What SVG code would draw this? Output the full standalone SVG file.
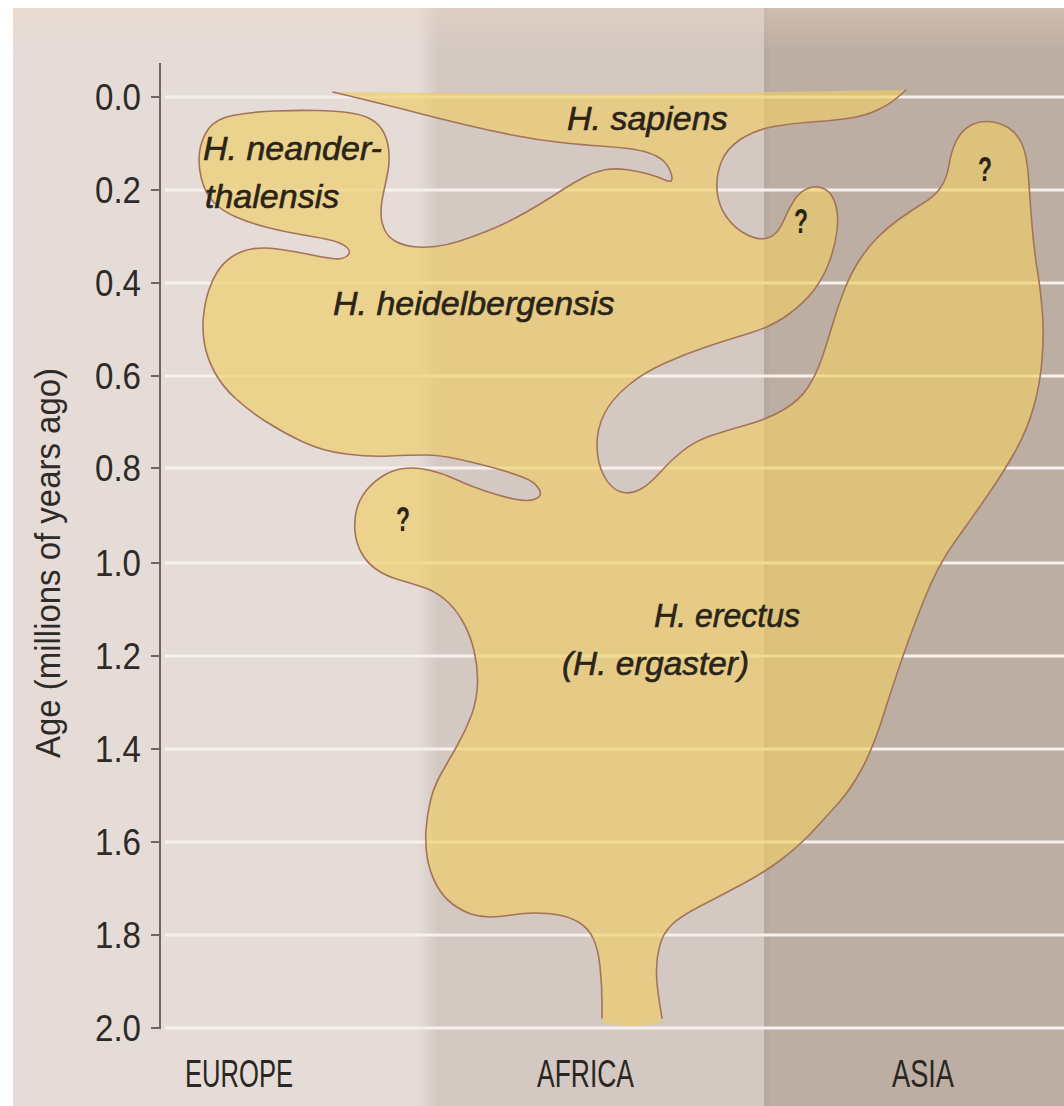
<svg xmlns="http://www.w3.org/2000/svg" width="1064" height="1106" viewBox="0 0 1064 1106">
<defs>
<style>
.grid{stroke:#f7f0eb;stroke-width:3}
.tick{stroke:#70665f;stroke-width:2}
.num{font-family:"Liberation Sans",Arial,sans-serif;font-size:37px;fill:#2e2a26;text-anchor:end}
.col{font-family:"Liberation Sans",Arial,sans-serif;font-size:38px;fill:#2a2622}
.sp{font-family:"Liberation Sans",Arial,sans-serif;font-size:34px;font-style:italic;fill:#2a2418;stroke:#2a2418;stroke-width:0.6}
.q{font-family:"Liberation Sans",Arial,sans-serif;font-size:35px;font-weight:bold;fill:#2a2418;text-anchor:middle}
</style>
<linearGradient id="topband" x1="0" y1="0" x2="0" y2="1">
<stop offset="0" stop-color="#f2d9c4" stop-opacity="0.35"/>
<stop offset="1" stop-color="#f2d9c4" stop-opacity="0"/>
</linearGradient>
<linearGradient id="eaEdge" x1="0" y1="0" x2="1" y2="0">
<stop offset="0" stop-color="#e5dcd8"/>
<stop offset="1" stop-color="#d4c8c2"/>
</linearGradient>
</defs>
<rect width="1064" height="1106" fill="#ffffff"/>
<g id="background">
<rect x="13" y="8" width="412" height="1098" fill="#e5dcd8"/>
<rect x="418" y="8" width="20" height="1098" fill="url(#eaEdge)"/>
<rect x="437" y="8" width="330" height="1098" fill="#d4c8c2"/>
<rect x="767" y="8" width="297" height="1098" fill="#bdaea3"/>
<rect x="764" y="8" width="5" height="1098" fill="#b9aaa0"/>
<rect x="13" y="8" width="1051" height="45" fill="url(#topband)"/>
</g>
<g id="grid">
<line class="grid" x1="165" y1="97" x2="1064" y2="97"/>
<line class="grid" x1="165" y1="190" x2="1064" y2="190"/>
<line class="grid" x1="165" y1="283" x2="1064" y2="283"/>
<line class="grid" x1="165" y1="376" x2="1064" y2="376"/>
<line class="grid" x1="165" y1="468" x2="1064" y2="468"/>
<line class="grid" x1="165" y1="563" x2="1064" y2="563"/>
<line class="grid" x1="165" y1="656" x2="1064" y2="656"/>
<line class="grid" x1="165" y1="749" x2="1064" y2="749"/>
<line class="grid" x1="165" y1="842" x2="1064" y2="842"/>
<line class="grid" x1="165" y1="935" x2="1064" y2="935"/>
<line class="grid" x1="165" y1="1028" x2="1064" y2="1028"/>
</g>
<g id="ranges">
<path fill="#eecd62" fill-opacity="0.64" d="M906,90 L898,97 Q890,104 877.5,110 Q865,116 847.5,118.5 Q830,121 811.5,122 Q793,123 774,126.5 Q755,130 741,139 Q727,148 721.5,161.5 Q716,175 717,190 Q718,205 726.5,217 Q735,229 747.5,235 Q760,241 769,237.5 Q778,234 783,222 Q788,210 794,200.5 Q800,191 809,188 Q818,185 825.5,189.5 Q833,194 836,206 Q839,218 836.5,234 Q834,250 828.5,264 Q823,278 814,290 Q805,302 789,314 Q773,326 750,333 Q727,340 706,347 Q685,354 664,363.5 Q643,373 627.5,386 Q612,399 604.5,413.5 Q597,428 597,445 Q597,462 603.5,475 Q610,488 620,491.5 Q630,495 640,489.5 Q650,484 660,472.5 Q670,461 682.5,451 Q695,441 711.5,435.5 Q728,430 748,424.5 Q768,419 784,409.5 Q800,400 808.5,386.5 Q817,373 822.5,356.5 Q828,340 833,323 Q838,306 844.5,289.5 Q851,273 859.5,260 Q868,247 878,237 Q888,227 900,218.5 Q912,210 923.5,203 Q935,196 941,187 Q947,178 949,165 Q951,152 956,141.5 Q961,131 969.5,126 Q978,121 988.5,121.5 Q999,122 1008,127.5 Q1017,133 1022,144 Q1027,155 1028.5,177.5 Q1030,200 1032,225 Q1034,250 1037.5,271 Q1041,292 1042.5,313.5 Q1044,335 1042,360 Q1040,385 1033.5,407.5 Q1027,430 1016,450 Q1005,470 988.5,494 Q972,518 955,541.5 Q938,565 925,597.5 Q912,630 902.5,657.5 Q893,685 883,716.5 Q873,748 862,768.5 Q851,789 838.5,803 Q826,817 812.5,831.5 Q799,846 782,859 Q765,872 742.5,884 Q720,896 700.5,906 Q681,916 672,924.5 Q663,933 659.5,946.5 Q656,960 656.5,975 Q657,990 662,1022 Q632,1030 602,1022 L602,1003.5 Q602,985 600,966.5 Q598,948 593,938 Q588,928 579,922.5 Q570,917 559,915 Q548,913 535.5,913 Q523,913 511.5,915 Q500,917 490,917 Q480,917 471,914 Q462,911 452.5,904 Q443,897 436.5,885 Q430,873 427.5,859 Q425,845 426,830 Q427,815 430.5,800.5 Q434,786 441.5,773 Q449,760 457.5,745 Q466,730 471.5,715 Q477,700 477.5,683.5 Q478,667 474,650.5 Q470,634 462.5,621 Q455,608 445,599.5 Q435,591 422.5,587 Q410,583 398,579.5 Q386,576 376.5,569.5 Q367,563 361.5,553 Q356,543 355,531.5 Q354,520 356.5,510 Q359,500 365.5,491.5 Q372,483 382,476.5 Q392,470 403.5,468.5 Q415,467 428.5,470 Q442,473 456,479.5 Q470,486 485,491 Q500,496 514,499 Q528,502 535.5,499 Q543,496 539,489 Q535,482 523.5,477.5 Q512,473 496,468.5 Q480,464 460,459.5 Q440,455 425,455 Q410,455 390,456 Q370,457 346,454 Q322,451 302,441.5 Q282,432 265,421 Q248,410 235,398 Q222,386 214.5,372 Q207,358 204.5,344 Q202,330 203.5,316 Q205,302 208.5,291 Q212,280 217.5,271.5 Q223,263 231.5,257 Q240,251 251.5,249 Q263,247 277.5,249 Q292,251 307,254 Q322,257 332,258.5 Q342,260 347,256 Q352,252 347,247.5 Q342,243 332,240.5 Q322,238 303.5,235 Q285,232 267.5,227.5 Q250,223 236,217 Q222,211 213.5,202 Q205,193 201.5,179 Q198,165 199.5,152.5 Q201,140 208,129.5 Q215,119 232.5,115.5 Q250,112 275,111 Q300,110 317.5,110.5 Q335,111 347.5,112.5 Q360,114 368.5,118 Q377,122 382,129.5 Q387,137 388.5,148.5 Q390,160 388,171 Q386,182 383.5,192.5 Q381,203 381,212.5 Q381,222 384.5,229.5 Q388,237 395,241 Q402,245 412,246.5 Q422,248 435,246.5 Q448,245 460,241 Q472,237 486,231.5 Q500,226 513.5,219 Q527,212 540,204 Q553,196 563,189.5 Q573,183 583.5,177.5 Q594,172 604,170 Q614,168 625.5,169.5 Q637,171 646.5,173.5 Q656,176 665,180 Q674,184 671.5,175 Q669,166 663.5,161 Q658,156 649,153 Q640,150 627.5,148.5 Q615,147 600,146 Q585,145 561,142.5 Q537,140 512,135 Q487,130 462,124 Q437,118 412,111.5 Q387,105 333,92 L620,94 Z"/>
<path fill="none" stroke="#a5735a" stroke-width="1.6" stroke-linejoin="round" stroke-linecap="round" d="M906,90 L898,97 Q890,104 877.5,110 Q865,116 847.5,118.5 Q830,121 811.5,122 Q793,123 774,126.5 Q755,130 741,139 Q727,148 721.5,161.5 Q716,175 717,190 Q718,205 726.5,217 Q735,229 747.5,235 Q760,241 769,237.5 Q778,234 783,222 Q788,210 794,200.5 Q800,191 809,188 Q818,185 825.5,189.5 Q833,194 836,206 Q839,218 836.5,234 Q834,250 828.5,264 Q823,278 814,290 Q805,302 789,314 Q773,326 750,333 Q727,340 706,347 Q685,354 664,363.5 Q643,373 627.5,386 Q612,399 604.5,413.5 Q597,428 597,445 Q597,462 603.5,475 Q610,488 620,491.5 Q630,495 640,489.5 Q650,484 660,472.5 Q670,461 682.5,451 Q695,441 711.5,435.5 Q728,430 748,424.5 Q768,419 784,409.5 Q800,400 808.5,386.5 Q817,373 822.5,356.5 Q828,340 833,323 Q838,306 844.5,289.5 Q851,273 859.5,260 Q868,247 878,237 Q888,227 900,218.5 Q912,210 923.5,203 Q935,196 941,187 Q947,178 949,165 Q951,152 956,141.5 Q961,131 969.5,126 Q978,121 988.5,121.5 Q999,122 1008,127.5 Q1017,133 1022,144 Q1027,155 1028.5,177.5 Q1030,200 1032,225 Q1034,250 1037.5,271 Q1041,292 1042.5,313.5 Q1044,335 1042,360 Q1040,385 1033.5,407.5 Q1027,430 1016,450 Q1005,470 988.5,494 Q972,518 955,541.5 Q938,565 925,597.5 Q912,630 902.5,657.5 Q893,685 883,716.5 Q873,748 862,768.5 Q851,789 838.5,803 Q826,817 812.5,831.5 Q799,846 782,859 Q765,872 742.5,884 Q720,896 700.5,906 Q681,916 672,924.5 Q663,933 659.5,946.5 Q656,960 656.5,975 Q657,990 662,1018 M602,1018 L602,1003.5 Q602,985 600,966.5 Q598,948 593,938 Q588,928 579,922.5 Q570,917 559,915 Q548,913 535.5,913 Q523,913 511.5,915 Q500,917 490,917 Q480,917 471,914 Q462,911 452.5,904 Q443,897 436.5,885 Q430,873 427.5,859 Q425,845 426,830 Q427,815 430.5,800.5 Q434,786 441.5,773 Q449,760 457.5,745 Q466,730 471.5,715 Q477,700 477.5,683.5 Q478,667 474,650.5 Q470,634 462.5,621 Q455,608 445,599.5 Q435,591 422.5,587 Q410,583 398,579.5 Q386,576 376.5,569.5 Q367,563 361.5,553 Q356,543 355,531.5 Q354,520 356.5,510 Q359,500 365.5,491.5 Q372,483 382,476.5 Q392,470 403.5,468.5 Q415,467 428.5,470 Q442,473 456,479.5 Q470,486 485,491 Q500,496 514,499 Q528,502 535.5,499 Q543,496 539,489 Q535,482 523.5,477.5 Q512,473 496,468.5 Q480,464 460,459.5 Q440,455 425,455 Q410,455 390,456 Q370,457 346,454 Q322,451 302,441.5 Q282,432 265,421 Q248,410 235,398 Q222,386 214.5,372 Q207,358 204.5,344 Q202,330 203.5,316 Q205,302 208.5,291 Q212,280 217.5,271.5 Q223,263 231.5,257 Q240,251 251.5,249 Q263,247 277.5,249 Q292,251 307,254 Q322,257 332,258.5 Q342,260 347,256 Q352,252 347,247.5 Q342,243 332,240.5 Q322,238 303.5,235 Q285,232 267.5,227.5 Q250,223 236,217 Q222,211 213.5,202 Q205,193 201.5,179 Q198,165 199.5,152.5 Q201,140 208,129.5 Q215,119 232.5,115.5 Q250,112 275,111 Q300,110 317.5,110.5 Q335,111 347.5,112.5 Q360,114 368.5,118 Q377,122 382,129.5 Q387,137 388.5,148.5 Q390,160 388,171 Q386,182 383.5,192.5 Q381,203 381,212.5 Q381,222 384.5,229.5 Q388,237 395,241 Q402,245 412,246.5 Q422,248 435,246.5 Q448,245 460,241 Q472,237 486,231.5 Q500,226 513.5,219 Q527,212 540,204 Q553,196 563,189.5 Q573,183 583.5,177.5 Q594,172 604,170 Q614,168 625.5,169.5 Q637,171 646.5,173.5 Q656,176 665,180 Q674,184 671.5,175 Q669,166 663.5,161 Q658,156 649,153 Q640,150 627.5,148.5 Q615,147 600,146 Q585,145 561,142.5 Q537,140 512,135 Q487,130 462,124 Q437,118 412,111.5 Q387,105 333,92"/>
</g>
<g id="axis">
<line class="tick" x1="160" y1="63" x2="160" y2="1029"/>
<line class="tick" x1="151" y1="97" x2="160" y2="97"/>
<line class="tick" x1="151" y1="190" x2="160" y2="190"/>
<line class="tick" x1="151" y1="283" x2="160" y2="283"/>
<line class="tick" x1="151" y1="376" x2="160" y2="376"/>
<line class="tick" x1="151" y1="468" x2="160" y2="468"/>
<line class="tick" x1="151" y1="563" x2="160" y2="563"/>
<line class="tick" x1="151" y1="656" x2="160" y2="656"/>
<line class="tick" x1="151" y1="749" x2="160" y2="749"/>
<line class="tick" x1="151" y1="842" x2="160" y2="842"/>
<line class="tick" x1="151" y1="935" x2="160" y2="935"/>
<line class="tick" x1="151" y1="1028" x2="160" y2="1028"/>
<text class="num" x="141" y="110" textLength="46" lengthAdjust="spacingAndGlyphs">0.0</text>
<text class="num" x="141" y="203" textLength="46" lengthAdjust="spacingAndGlyphs">0.2</text>
<text class="num" x="141" y="296" textLength="46" lengthAdjust="spacingAndGlyphs">0.4</text>
<text class="num" x="141" y="389" textLength="46" lengthAdjust="spacingAndGlyphs">0.6</text>
<text class="num" x="141" y="481" textLength="46" lengthAdjust="spacingAndGlyphs">0.8</text>
<text class="num" x="141" y="576" textLength="46" lengthAdjust="spacingAndGlyphs">1.0</text>
<text class="num" x="141" y="669" textLength="46" lengthAdjust="spacingAndGlyphs">1.2</text>
<text class="num" x="141" y="762" textLength="46" lengthAdjust="spacingAndGlyphs">1.4</text>
<text class="num" x="141" y="855" textLength="46" lengthAdjust="spacingAndGlyphs">1.6</text>
<text class="num" x="141" y="948" textLength="46" lengthAdjust="spacingAndGlyphs">1.8</text>
<text class="num" x="141" y="1041" textLength="46" lengthAdjust="spacingAndGlyphs">2.0</text>
<text font-family="Liberation Sans, Arial, sans-serif" font-size="35" fill="#2e2a26" text-anchor="middle" transform="translate(60,563) rotate(-90)" textLength="390" lengthAdjust="spacingAndGlyphs">Age (millions of years ago)</text>
</g>
<g id="regions-labels">
<text class="col" x="185" y="1087" textLength="108" lengthAdjust="spacingAndGlyphs">EUROPE</text>
<text class="col" x="537" y="1087" textLength="97" lengthAdjust="spacingAndGlyphs">AFRICA</text>
<text class="col" x="892" y="1087" textLength="62" lengthAdjust="spacingAndGlyphs">ASIA</text>
</g>
<g id="species-labels">
<text class="sp" x="203" y="160">H. neander-</text>
<text class="sp" x="205" y="208">thalensis</text>
<text class="sp" x="567" y="130">H. sapiens</text>
<text class="sp" x="333" y="315">H. heidelbergensis</text>
<text class="sp" x="654" y="627" textLength="146" lengthAdjust="spacingAndGlyphs">H. erectus</text>
<text class="sp" x="562" y="675" textLength="187" lengthAdjust="spacingAndGlyphs">(H. ergaster)</text>
<text class="q" x="801" y="233" textLength="14" lengthAdjust="spacingAndGlyphs">?</text>
<text class="q" x="985" y="181" textLength="14" lengthAdjust="spacingAndGlyphs">?</text>
<text class="q" x="403" y="531" textLength="14" lengthAdjust="spacingAndGlyphs">?</text>
</g>
</svg>
